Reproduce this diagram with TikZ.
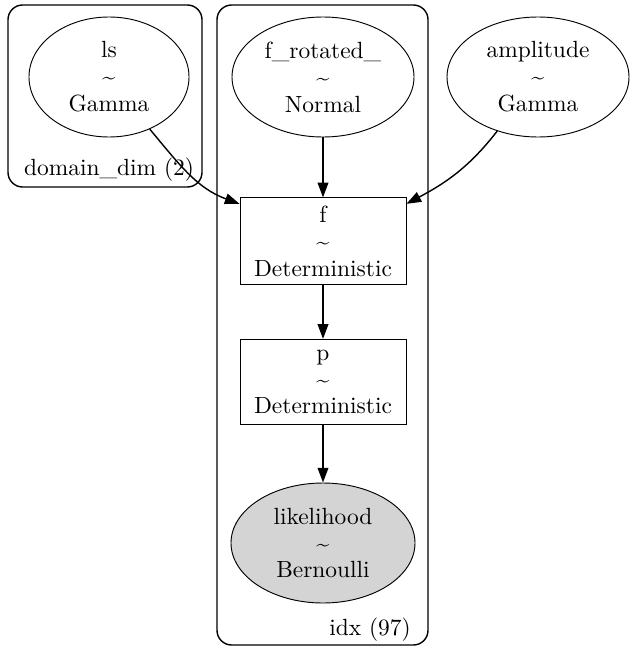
\documentclass[tikz,border=0pt]{standalone}
\usepackage{tikz}
\usetikzlibrary{arrows.meta,shapes.geometric}

\begin{document}
\begin{tikzpicture}[x=0.015cm, y=-0.015cm,
    rv/.style={draw, ellipse, minimum width=2.73cm, minimum height=1.8cm, align=center, font=\fontsize{10}{11.5}\selectfont, inner sep=0pt},
    det/.style={draw, rectangle, minimum width=2.49cm, minimum height=1.28cm, align=center, font=\fontsize{10}{11.5}\selectfont},
    plate/.style={draw, rounded corners=0.22cm, semithick},
    arrow/.style={-{Triangle[length=2.2mm, width=1.6mm]}, semithick}
]
\useasboundingbox (0,0) rectangle (629,651);

% Plates
\draw[plate] (8,5) rectangle (202,187);
\draw[plate] (217,5) rectangle (428,645);
\node[font=\fontsize{10}{12}\selectfont] (dimlab) at (109,170) {domain\_dim (2)};
\node[font=\fontsize{10}{12}\selectfont, anchor=east] (idxlab) at (419,630) {idx (97)};

% Free variables
\node[rv, minimum width=2.4cm] (ls) at (109,77) {ls\\\textasciitilde\\Gamma};
\node[rv] (frot) at (323,77) {f\_rotated\_\\\textasciitilde\\Normal};
\node[rv] (amp) at (538,77) {amplitude\\\textasciitilde\\Gamma};

% Deterministics and observed
\node[det] (f) at (323,241) {f\\\textasciitilde\\Deterministic};
\node[det] (p) at (323,382) {p\\\textasciitilde\\Deterministic};
\node[rv, fill=black!17, minimum width=2.76cm] (lik) at (323,543) {likelihood\\\textasciitilde\\Bernoulli};

% Edges
\draw[arrow] (frot) -- (f);
\draw[arrow] (f) -- (p);
\draw[arrow] (p) -- (lik);
\draw[arrow] (ls.-52) to[out=-50, in=160] (f.156);
\draw[arrow] (amp.-127) to[out=-128, in=28] (f.24);
\end{tikzpicture}
\end{document}
